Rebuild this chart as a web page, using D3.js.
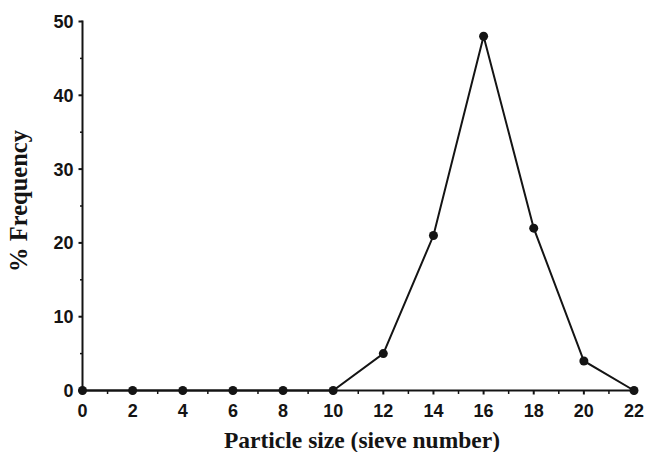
<!DOCTYPE html>
<html><head><meta charset="utf-8">
<script src="https://cdn.jsdelivr.net/npm/d3@7"></script>
<style>body{margin:0;background:#fff}svg{display:block}</style>
</head><body>
<svg id="c" width="647" height="452"></svg>
<script>
const sieveNumbers = [0, 2, 4, 6, 8, 10, 12, 14, 16, 18, 20, 22];
const frequency = [0, 0, 0, 0, 0, 0, 5, 21, 48, 22, 4, 0];
const xTicks = [0, 2, 4, 6, 8, 10, 12, 14, 16, 18, 20, 22];
const yTicks = [0, 10, 20, 30, 40, 50];
const xLabel = "Particle size (sieve number)";
const yLabel = "% Frequency";

const svg = d3.select("#c");
const x = d3.scaleLinear().domain([0, 22]).range([82.5, 634]);
const y = d3.scaleLinear().domain([0, 50]).range([390.5, 21.5]);
const ink = "#141414";

// y axis
const ya = svg.append("g").attr("transform", "translate(82.5,0)");
ya.append("line").attr("y1", y(50) - 1).attr("y2", y(0)).attr("stroke", ink).attr("stroke-width", 2);
ya.selectAll(".mj").data(yTicks).join("line").attr("x1", -4).attr("x2", 0)
  .attr("y1", d => y(d)).attr("y2", d => y(d)).attr("stroke", ink).attr("stroke-width", 2);
ya.selectAll(".mn").data(d3.range(5, 50, 10)).join("line").attr("x1", -2.5).attr("x2", 0)
  .attr("y1", d => y(d)).attr("y2", d => y(d)).attr("stroke", ink).attr("stroke-width", 1.5);
ya.selectAll("text").data(yTicks).join("text").attr("x", -9).attr("y", d => y(d)).attr("dy", "0.36em")
  .attr("text-anchor", "end").attr("font-family", "Liberation Sans, Arial, sans-serif")
  .attr("font-weight", "bold").attr("font-size", 18).attr("fill", ink).text(d => d);

// x axis
const xa = svg.append("g").attr("transform", `translate(0,${y(0)})`);
xa.append("line").attr("x1", x(0)).attr("x2", x(22)).attr("stroke", ink).attr("stroke-width", 2);
xa.selectAll(".mj").data(xTicks).join("line").attr("y1", 0).attr("y2", 4)
  .attr("x1", d => x(d)).attr("x2", d => x(d)).attr("stroke", ink).attr("stroke-width", 2);
xa.selectAll(".mn").data(d3.range(1, 22, 2)).join("line").attr("y1", 0).attr("y2", 3.5)
  .attr("x1", d => x(d)).attr("x2", d => x(d)).attr("stroke", ink).attr("stroke-width", 1.5);
xa.selectAll("text").data(xTicks).join("text").attr("x", d => x(d)).attr("y", 26.5)
  .attr("text-anchor", "middle").attr("font-family", "Liberation Sans, Arial, sans-serif")
  .attr("font-weight", "bold").attr("font-size", 18).attr("fill", ink).text(d => d);

// line
const pts = sieveNumbers.map((s, i) => [s, frequency[i]]);
svg.append("path").datum(pts)
  .attr("d", d3.line().x(d => x(d[0])).y(d => y(d[1])))
  .attr("fill", "none").attr("stroke", ink).attr("stroke-width", 2);
svg.selectAll(".pt").data(pts).join("circle").attr("cx", d => x(d[0])).attr("cy", d => y(d[1]))
  .attr("r", 4.5).attr("fill", ink);

// titles
svg.append("text").attr("x", 362).attr("y", 448).attr("text-anchor", "middle")
  .attr("font-family", "Liberation Serif, Times New Roman, serif").attr("font-weight", "bold")
  .attr("font-size", 23.5).attr("fill", ink).text(xLabel);
svg.append("text").attr("transform", "translate(27,201) rotate(-90)").attr("text-anchor", "middle")
  .attr("font-family", "Liberation Serif, Times New Roman, serif").attr("font-weight", "bold")
  .attr("font-size", 24.5).attr("fill", ink).text(yLabel);
</script>
</body></html>
